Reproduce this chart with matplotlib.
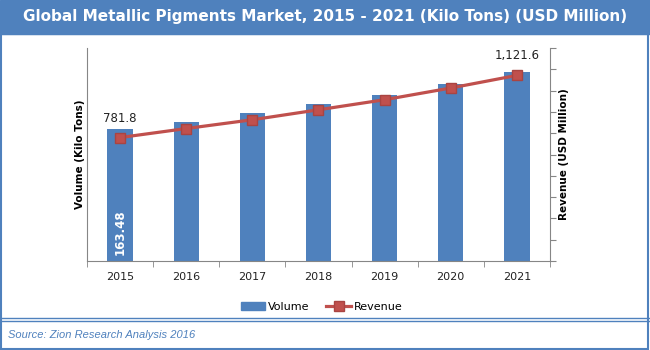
import numpy as np
import matplotlib.pyplot as plt
from matplotlib.lines import Line2D
from matplotlib.patches import Rectangle

years = ['2015', '2016', '2017', '2018', '2019', '2020', '2021']
volume = [781.8, 826, 880, 934, 988, 1053, 1121.6]
revenue = [163.48, 175.4, 187.0, 200.2, 213.5, 229.0, 245.7]

blue = '#4F81BD'
red = '#C0504D'
grey = '#868686'

fig = plt.figure(figsize=(6.5, 3.5), dpi=100)

# title banner, frame and source box
fig.patches.append(Rectangle((0, 0.903), 1, 0.097, transform=fig.transFigure, color=blue, zorder=0))
fig.patches.append(Rectangle((0.002, 0.004), 0.995, 0.9, transform=fig.transFigure,
                             fill=False, edgecolor=blue, lw=1.5, zorder=1))
fig.add_artist(Line2D([0, 1], [0.091, 0.091], transform=fig.transFigure, color=blue, lw=1))
fig.add_artist(Line2D([0, 1], [0.083, 0.083], transform=fig.transFigure, color=blue, lw=1))
fig.text(0.5, 0.952, 'Global Metallic Pigments Market, 2015 - 2021 (Kilo Tons) (USD Million)',
         color='white', fontsize=11, fontweight='bold', ha='center', va='center')
fig.text(0.012, 0.043, 'Source: Zion Research Analysis 2016', color=blue, fontsize=8,
         style='italic', family='Liberation Sans', ha='left', va='center')

ax = fig.add_axes([0.134, 0.254, 0.712, 0.609])
x = np.arange(len(years))
ax.bar(x, volume, width=0.385, color=blue, zorder=2)
ax.set_xlim(-0.5, 6.5)
ax.set_ylim(0, 1265)
ax.set_yticks([])
ax.set_xticks(x)
ax.set_xticklabels(years, fontsize=8, color='#222222')
ax.set_xticks(np.arange(-0.5, 7, 1), minor=True)
ax.tick_params(axis='x', which='major', length=0, pad=8)
ax.tick_params(axis='x', which='minor', length=4, color=grey)
for s in ['top', 'right']:
    ax.spines[s].set_visible(False)
for s in ['left', 'bottom']:
    ax.spines[s].set_color(grey)
ax.set_ylabel('Volume (Kilo Tons)', fontsize=7.5, fontweight='bold', labelpad=1.5)

ax.text(x[0], volume[0] + 25, '781.8', ha='center', va='bottom', fontsize=8.5, color='#222222')
ax.text(x[-1], volume[-1] + 60, '1,121.6', ha='center', va='bottom', fontsize=8.5, color='#222222')
ax.text(x[0], 170, '163.48', rotation=90, ha='center', va='center', fontsize=8.5,
        color='white', fontweight='bold', zorder=5)

ax2 = ax.twinx()
ax2.plot(x, revenue, color=red, lw=2.3, marker='s', markersize=7,
         markerfacecolor=red, markeredgecolor='#A94442', zorder=3)
ax2.set_ylim(0, 282)
ax2.set_yticks(np.linspace(0, 282, 11))
ax2.set_yticklabels([])
ax2.tick_params(axis='y', length=4, color=grey)
for s in ['top', 'left', 'bottom']:
    ax2.spines[s].set_visible(False)
ax2.spines['right'].set_color(grey)
ax2.set_ylabel('Revenue (USD Million)', fontsize=7.5, fontweight='bold', labelpad=-1)

handles = [Rectangle((0, 0), 1, 1, color=blue),
           Line2D([0], [0], color=red, lw=2.3, marker='s', markersize=7,
                  markerfacecolor=red, markeredgecolor='#A94442')]
fig.legend(handles, ['Volume', 'Revenue'], loc='center', bbox_to_anchor=(0.495, 0.123),
           ncol=2, frameon=False, fontsize=8, handlelength=2.2, columnspacing=1.5,
           handletextpad=0.3)

plt.savefig('out.png', dpi=100)
